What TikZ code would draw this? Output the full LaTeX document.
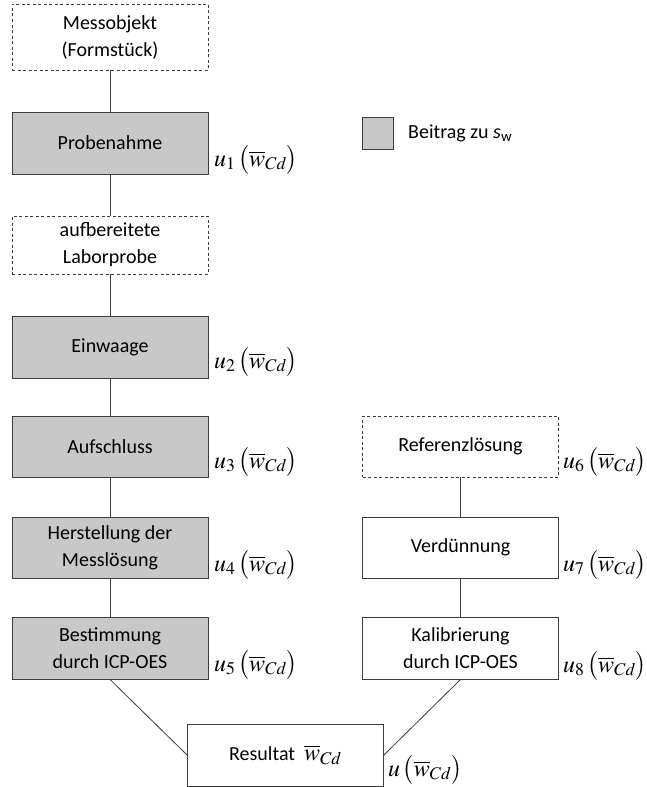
\documentclass[tikz,border=0pt]{standalone}
\usepackage[no-math]{fontspec}
\usepackage{mathptmx}
\setmainfont{Carlito}
\definecolor{boxgray}{RGB}{200,200,200}
\definecolor{edge}{RGB}{60,60,60}
\newcommand{\ulab}[1]{\fontsize{24}{28}\selectfont$u_{#1}\,\bigl(\overline{w}_{Cd}\bigr)$}
\begin{document}
\begin{tikzpicture}[x=1pt,y=-1pt,
  box/.style={draw=edge,line width=0.9pt,minimum width=196pt,minimum height=62pt,align=center,inner sep=2pt,font=\fontsize{20}{27}\selectfont},
  graybox/.style={box,fill=boxgray},
  dbox/.style={box,dashed,dash pattern=on 3pt off 2.5pt,line width=0.8pt},
  conn/.style={draw=edge,line width=0.8pt},
  lab/.style={anchor=west,inner sep=0pt}]
\useasboundingbox (0,0) rectangle (647,787);
\node[dbox,minimum height=66pt] (mo) at (110,37) {Messobjekt\\(Formstück)};
\node[graybox] (pn) at (110,143) {Probenahme};
\node[dbox,minimum height=58pt] (lp) at (110,245) {aufbereitete\\Laborprobe};
\node[graybox] (ew) at (110,347) {Einwaage};
\node[graybox,minimum height=61pt] (as) at (110,446.5) {Aufschluss};
\node[graybox,minimum height=61pt] (hm) at (110,547.5) {Herstellung der\\Messlösung};
\node[graybox] (bi) at (110,648) {Bestimmung\\durch ICP-OES};
\node[dbox,minimum height=61pt] (rl) at (460.5,446.5) {Referenzlösung};
\node[box,minimum height=61pt] (vd) at (460.5,547.5) {Verdünnung};
\node[box] (kb) at (460.5,648) {Kalibrierung\\durch ICP-OES};
\node[box] (rs) at (285.5,755) {Resultat\ \ {\fontsize{24}{28}\selectfont$\overline{w}_{Cd}$}};
\draw[conn] (mo) -- (pn);
\draw[conn] (pn) -- (lp);
\draw[conn] (lp) -- (ew);
\draw[conn] (ew) -- (as);
\draw[conn] (as) -- (hm);
\draw[conn] (hm) -- (bi);
\draw[conn] (rl) -- (vd);
\draw[conn] (vd) -- (kb);
\draw[conn] (bi.south) -- (rs.west);
\draw[conn] (kb.south) -- (rs.east);
\node[lab] (l1) at (214,160) {\ulab{1}};
\node[lab] (l2) at (214,362) {\ulab{2}};
\node[lab] (l3) at (214,462) {\ulab{3}};
\node[lab] (l4) at (214,565) {\ulab{4}};
\node[lab] (l5) at (214,665) {\ulab{5}};
\node[lab] (l6) at (563,462) {\ulab{6}};
\node[lab] (l7) at (563,565) {\ulab{7}};
\node[lab] (l8) at (563,666) {\ulab{8}};
\node[lab] (lu) at (388,770) {\fontsize{24}{28}\selectfont$u\,\bigl(\overline{w}_{Cd}\bigr)$};
\node[draw=edge,line width=0.9pt,fill=boxgray,minimum width=31pt,minimum height=32pt,inner sep=0pt] (lg) at (378,133) {};
\node[lab,font=\fontsize{20}{24}\selectfont] (lgt) at (408,133) {Beitrag zu \textit{s}\textsubscript{w}};
\end{tikzpicture}
\end{document}
